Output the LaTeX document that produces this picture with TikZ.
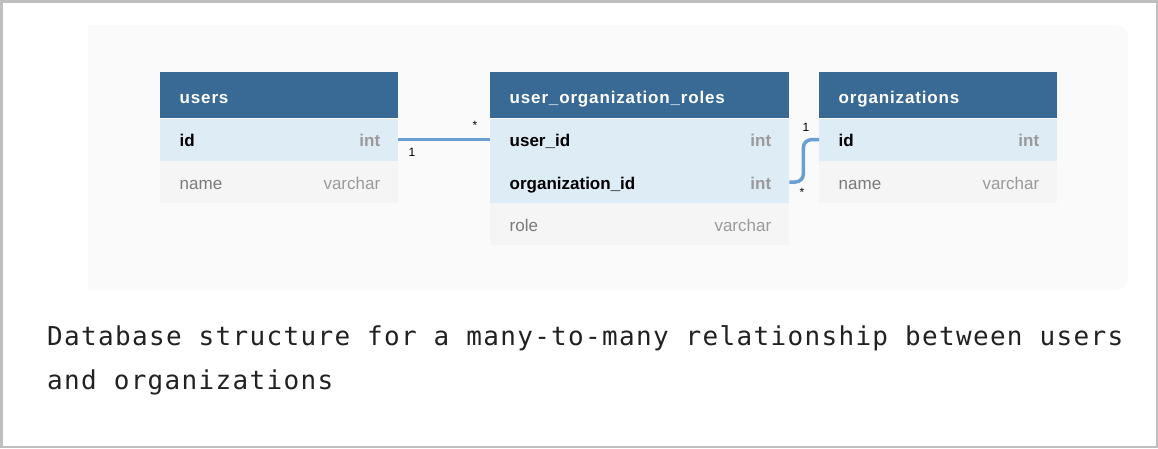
\documentclass[tikz,border=0pt]{standalone}
\usepackage{fontspec}
\setmainfont{Liberation Sans}
\newfontfamily\tblfont{Liberation Sans}
\newfontfamily\headfam{Liberation Sans}[LetterSpace=5]
\newfontfamily\capfont{DejaVu Sans Mono}[LetterSpace=5.1]
\usetikzlibrary{positioning}

\definecolor{hdrblue}{HTML}{386A95}
\definecolor{keyblue}{HTML}{DDECF5}
\definecolor{rowgray}{HTML}{F5F5F5}
\definecolor{panelgray}{HTML}{FAFAFA}
\definecolor{relblue}{HTML}{6A9FD3}
\definecolor{fieldgray}{HTML}{7A7A7A}
\definecolor{typegray}{HTML}{9A9A9A}
\definecolor{framegray}{HTML}{BFBFBF}

\tikzset{
	tblhead/.style={rectangle, fill=hdrblue, text=white, anchor=north west,
		minimum height=46pt, inner xsep=19.5pt, inner ysep=0pt, text width=#1,
		align=left, text height=16pt, text depth=0pt,
		font=\headfam\bfseries\fontsize{17}{20}\selectfont},
	keyrow/.style={rectangle, fill=keyblue, text=black, anchor=north west,
		minimum height=42pt, inner xsep=19.5pt, inner ysep=0pt, text width=#1,
		align=left, text height=14pt, text depth=0pt,
		font=\tblfont\bfseries\fontsize{17}{20}\selectfont},
	plainrow/.style={keyrow=#1, fill=rowgray, text=fieldgray,
		font=\tblfont\fontsize{17}{20}\selectfont},
	keytype/.style={inner sep=0pt, text height=14pt, text depth=0pt, text=typegray,
		font=\tblfont\bfseries\fontsize{17}{20}\selectfont},
	plaintype/.style={keytype, font=\tblfont\fontsize{17}{20}\selectfont},
	rel/.style={draw=relblue, line width=3.5pt},
	card/.style={inner sep=0pt, font=\tblfont\fontsize{12}{14}\selectfont}
}

\begin{document}
\begin{tikzpicture}[x=1pt, y=-1pt]
	\useasboundingbox (0,0) rectangle (1158,448);
	\draw[framegray, line width=2.5pt] (1.25,1.25) rectangle (1156.75,446.75);
	\fill[panelgray] (88,25) [rounded corners=12pt] -- (1128,25) -- (1128,290)
		[sharp corners] -- (88,290) -- cycle;

	% users
	\node[tblhead=199pt] (users) at (160,72) {users};
	\node[keyrow=199pt, below right=0pt and 0pt of users.south west] (users-id) {id};
	\node[plainrow=199pt, below right=0pt and 0pt of users-id.south west] (users-name) {name};
	\node[keytype, left=18pt of users-id.east] (users-id-t) {int};
	\node[plaintype, left=18pt of users-name.east] (users-name-t) {varchar};

	% user_organization_roles
	\node[tblhead=260pt] (uor) at (490,72) {user\_organization\_roles};
	\node[keyrow=260pt, below right=0pt and 0pt of uor.south west] (uor-user) {user\_id};
	\node[keyrow=260pt, below right=0pt and 0pt of uor-user.south west] (uor-org) {organization\_id};
	\node[plainrow=260pt, below right=0pt and 0pt of uor-org.south west] (uor-role) {role};
	\node[keytype, left=18pt of uor-user.east] (uor-user-t) {int};
	\node[keytype, left=18pt of uor-org.east] (uor-org-t) {int};
	\node[plaintype, left=18pt of uor-role.east] (uor-role-t) {varchar};

	% organizations
	\node[tblhead=199pt] (org) at (819,72) {organizations};
	\node[keyrow=199pt, below right=0pt and 0pt of org.south west] (org-id) {id};
	\node[plainrow=199pt, below right=0pt and 0pt of org-id.south west] (org-name) {name};
	\node[keytype, left=18pt of org-id.east] (org-id-t) {int};
	\node[plaintype, left=18pt of org-name.east] (org-name-t) {varchar};

	% relations
	\draw[rel] (users-id.east) -- (uor-user.west);
	\draw[rel, rounded corners=8pt] (uor-org.east) -- ++(14,0) |- (org-id.west);
	\node[card] (c-users) at (412,152) {1};
	\node[card] (c-uor-user) at (475,125) {*};
	\node[card] (c-org) at (806,127) {1};
	\node[card] (c-uor-org) at (802,192) {*};

	% caption
	\node[anchor=base west, inner sep=0pt, align=left, text=black!87,
		font=\capfont\fontsize{26}{44}\selectfont] (caption) at (47,389)
		{Database structure for a many-to-many relationship between users\\and organizations};
\end{tikzpicture}
\end{document}
